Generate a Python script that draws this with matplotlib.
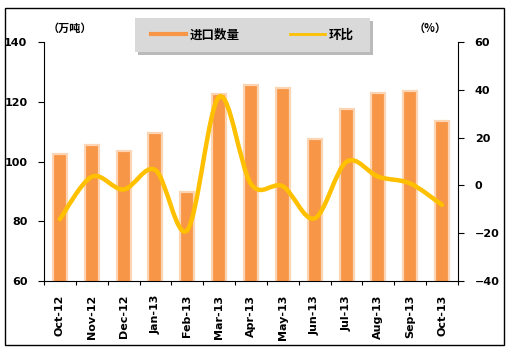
import numpy as np
import matplotlib.pyplot as plt
from matplotlib.path import Path
from matplotlib.patches import PathPatch, Rectangle
from matplotlib.lines import Line2D

plt.rcParams['font.family'] = ['Noto Sans CJK SC', 'DejaVu Sans']

# data
months = ['Oct-12', 'Nov-12', 'Dec-12', 'Jan-13', 'Feb-13', 'Mar-13', 'Apr-13',
          'May-13', 'Jun-13', 'Jul-13', 'Aug-13', 'Sep-13', 'Oct-13']
imports = [102.5, 105.5, 103.6, 109.5, 89.7, 122.5, 125.6, 124.5, 107.5, 117.6, 122.8, 123.6, 113.7]
mom = [-14.1, 3.6, -1.7, 6.4, -18.7, 37.1, 0.6, -0.4, -13.8, 9.9, 3.6, 0.8, -8.2]

bar_color = '#F79646'
edge_color = '#FCD5B5'
line_color = '#FFC000'

fig = plt.figure(figsize=(5.11, 3.53), dpi=100)
fig.patch.set_facecolor('white')

# outer frame
fig.patches.append(Rectangle((5 / 511, 1 - 345 / 353), 499 / 511, 337 / 353,
                             transform=fig.transFigure, fill=False,
                             edgecolor='black', linewidth=1.0))

ax = fig.add_axes([44 / 511, 1 - 281 / 353, 414 / 511, 239 / 353])
x = np.arange(len(months))
ax.bar(x, imports, width=0.44, color=bar_color, edgecolor=edge_color,
       linewidth=1.6, zorder=2)
ax.set_ylim(60, 140)
ax.set_xlim(-0.5, len(months) - 0.5)
ax.set_yticks([60, 80, 100, 120, 140])

ax2 = ax.twinx()
ax2.set_ylim(-40, 60)
ax2.set_yticks([-40, -20, 0, 20, 40, 60])

# smoothed line (Excel-style bezier through the points)
pts = np.column_stack([x, mom]).astype(float)
verts = [tuple(pts[0])]
codes = [Path.MOVETO]
n = len(pts)
for i in range(n - 1):
    p0 = pts[max(i - 1, 0)]
    p1 = pts[i]
    p2 = pts[i + 1]
    p3 = pts[min(i + 2, n - 1)]
    c1 = p1 + (p2 - p0) / 6
    c2 = p2 - (p3 - p1) / 6
    verts += [tuple(c1), tuple(c2), tuple(p2)]
    codes += [Path.CURVE4] * 3
ax2.add_patch(PathPatch(Path(verts, codes), fill=False, edgecolor=line_color,
                        linewidth=3.2, capstyle='round', joinstyle='round', zorder=3))

tick_font = dict(family='DejaVu Sans', weight='bold', size=8)
for a in (ax, ax2):
    a.spines['top'].set_visible(False)
    a.spines['left'].set_visible(a is ax)
    a.spines['right'].set_visible(a is ax2)
    a.spines['bottom'].set_visible(a is ax)
ax.tick_params(axis='y', direction='out', length=4, width=0.8, pad=8)
ax2.tick_params(axis='y', direction='out', length=4, width=0.8, pad=8)
for lab in ax.get_yticklabels() + ax2.get_yticklabels():
    lab.set_fontproperties(tick_font)

ax.set_xticks(x)
ax.set_xticklabels(months, rotation=90, fontdict=tick_font)
ax.tick_params(axis='x', which='major', length=0, pad=10)
ax.set_xticks(np.arange(-0.5, len(months)), minor=True)
ax.tick_params(axis='x', which='minor', direction='out', length=3, width=0.8)

# unit labels
fig.text(70 / 511, 1 - 28 / 353, '（万吨）', ha='center', va='center',
         fontsize=8, fontweight='bold')
fig.text(430 / 511, 1 - 28 / 353, '（%）', ha='center', va='center',
         fontsize=8, fontweight='bold')

# legend box with shadow
fig.patches.append(Rectangle((138 / 511, 1 - 55 / 353), 235 / 511, 34 / 353,
                             transform=fig.transFigure, facecolor='#8C8C8C',
                             edgecolor='none', alpha=0.6))
fig.patches.append(Rectangle((135 / 511, 1 - 52 / 353), 235 / 511, 34 / 353,
                             transform=fig.transFigure, facecolor='#D9D9D9',
                             edgecolor='none'))
handles = [Line2D([], [], color=bar_color, linewidth=3),
           Line2D([], [], color=line_color, linewidth=2)]
fig.legend(handles, ['进口数量', '环比'], loc='center',
           bbox_to_anchor=(252 / 511, 1 - 35 / 353), ncol=2, frameon=False,
           prop=dict(family=['Noto Sans CJK SC'], weight='bold', size=9),
           handlelength=2.8, columnspacing=4, handletextpad=0.3)

fig.savefig('out.png', dpi=100)
